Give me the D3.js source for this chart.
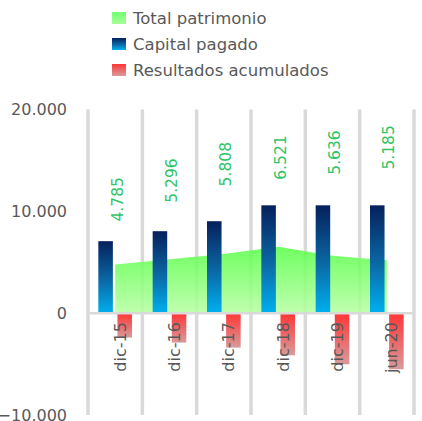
<!DOCTYPE html>
<html>
<head>
<meta charset="utf-8">
<script src="https://cdn.jsdelivr.net/npm/d3@7"></script>
<style>
    body { margin: 0; background: #fff; }
    svg { display: block; font-family: "DejaVu Sans", sans-serif; }
</style>
</head>
<body>
<svg id="chart" width="422" height="421"></svg>
<script>
const categories = ["dic-15", "dic-16", "dic-17", "dic-18", "dic-19", "jun-20"];
const totalPatrimonio = [4785, 5296, 5808, 6521, 5636, 5185];
const capitalPagado = [7070, 8050, 9030, 10590, 10590, 10590];
const resultadosAcumulados = [-2400, -2890, -3380, -4140, -5020, -5510];
// where each green label starts (data units)
const labelBase = [9000, 10850, 12450, 13100, 13600, 14100];
const yTicks = [-10000, 0, 10000, 20000];
const legendItems = ["Total patrimonio", "Capital pagado", "Resultados acumulados"];

const svg = d3.select("#chart");
const GRAY = "#595959";
const GRID = "#d9d9d9";

const locale = d3.formatLocale({ decimal: ",", thousands: ".", grouping: [3], currency: ["", ""] });
const fmt = locale.format(",.0f");

const x = d3.scaleBand().domain(categories).range([88, 414]).padding(0);
const sub = d3.scaleBand().domain(["cap", "res"]).range([0, x.bandwidth()])
    .paddingInner(0.24).paddingOuter(0.54);
const y = d3.scaleLinear().domain([-10000, 20000]).range([415, 109.5]);
const cx = (c) => x(c) + x.bandwidth() / 2;

// gradients
let defs = svg.append("defs");
function vGrad(id, stops) {
    let g = defs.append("linearGradient").attr("id", id)
        .attr("x1", "0%").attr("y1", "0%").attr("x2", "0%").attr("y2", "100%");
    stops.forEach((s) => g.append("stop").attr("offset", s[0]).attr("stop-color", s[1]));
}
vGrad("g-blue", [["0%", "#06205c"], ["55%", "#0a6aa6"], ["100%", "#00b0f0"]]);
vGrad("g-red", [["0%", "#ff3535"], ["100%", "#d99a9a"]]);
vGrad("g-green", [["0%", "#5cff4c"], ["100%", "#b8ffa4"]]);
vGrad("g-green-leg", [["0%", "#70ff70"], ["100%", "#a8ff98"]]);

// vertical grid lines at category boundaries
let bounds = categories.map((c) => x(c)).concat([x.range()[1]]);
svg.append("g").selectAll("line").data(bounds).enter().append("line")
    .attr("x1", (d) => d).attr("x2", (d) => d)
    .attr("y1", y(20000)).attr("y2", y(-10000))
    .attr("stroke", GRID).attr("stroke-width", 3.5);

// y axis labels
let yAxis = svg.append("g").attr("transform", "translate(70,0)")
    .call(d3.axisLeft(y).tickValues(yTicks).tickSize(0).tickPadding(3).tickFormat(fmt));
yAxis.select(".domain").remove();
yAxis.selectAll("text").attr("font-size", 16).attr("fill", GRAY)
    .attr("font-family", "DejaVu Sans, sans-serif");

// area
let area = d3.area()
    .x((d, i) => cx(categories[i]))
    .y0(y(0))
    .y1((d) => y(d));
svg.append("path").datum(totalPatrimonio)
    .attr("d", area)
    .attr("fill", "url(#g-green)")
    .attr("fill-opacity", 0.88);

// capital bars
svg.append("g").selectAll("rect").data(capitalPagado).enter().append("rect")
    .attr("x", (d, i) => x(categories[i]) + sub("cap"))
    .attr("width", sub.bandwidth())
    .attr("y", (d) => y(d))
    .attr("height", (d) => y(0) - y(d))
    .attr("fill", "url(#g-blue)");

// resultados bars
svg.append("g").selectAll("rect").data(resultadosAcumulados).enter().append("rect")
    .attr("x", (d, i) => x(categories[i]) + sub("res"))
    .attr("width", sub.bandwidth())
    .attr("y", y(0))
    .attr("height", (d) => y(d) - y(0))
    .attr("fill", "url(#g-red)");

// zero line
svg.append("line")
    .attr("x1", 90).attr("x2", x.range()[1])
    .attr("y1", y(0)).attr("y2", y(0))
    .attr("stroke", GRID).attr("stroke-width", 2.5);

// category labels
let xAxis = svg.append("g").attr("transform", "translate(1," + y(0) + ")")
    .call(d3.axisBottom(x).tickSize(0));
xAxis.select(".domain").remove();
xAxis.selectAll("text")
    .attr("transform", "rotate(-90)")
    .attr("x", -9).attr("y", 0).attr("dy", "0.6em")
    .attr("text-anchor", "end")
    .attr("font-size", 16).attr("fill", GRAY)
    .attr("font-family", "DejaVu Sans, sans-serif");

// value labels
svg.append("g").selectAll("text").data(totalPatrimonio).enter().append("text")
    .attr("transform", (d, i) => "translate(" + cx(categories[i]) + "," + y(labelBase[i]) + ")rotate(-90)")
    .attr("dy", "0.48em")
    .attr("font-size", 15.5)
    .attr("fill", "#2fc466")
    .text((d) => fmt(d));

// legend
let legend = svg.append("g").attr("transform", "translate(112,0)");
let fills = ["url(#g-green-leg)", "url(#g-blue)", "url(#g-red)"];
legendItems.forEach((name, i) => {
    let row = legend.append("g").attr("transform", "translate(0," + (18 + i * 26) + ")");
    row.append("rect").attr("x", 0).attr("y", -6).attr("width", 14).attr("height", 12)
        .attr("fill", fills[i]);
    row.append("text").attr("x", 21).attr("dy", "0.36em")
        .attr("font-size", 16.5).attr("fill", GRAY).text(name);
});
</script>
</body>
</html>
